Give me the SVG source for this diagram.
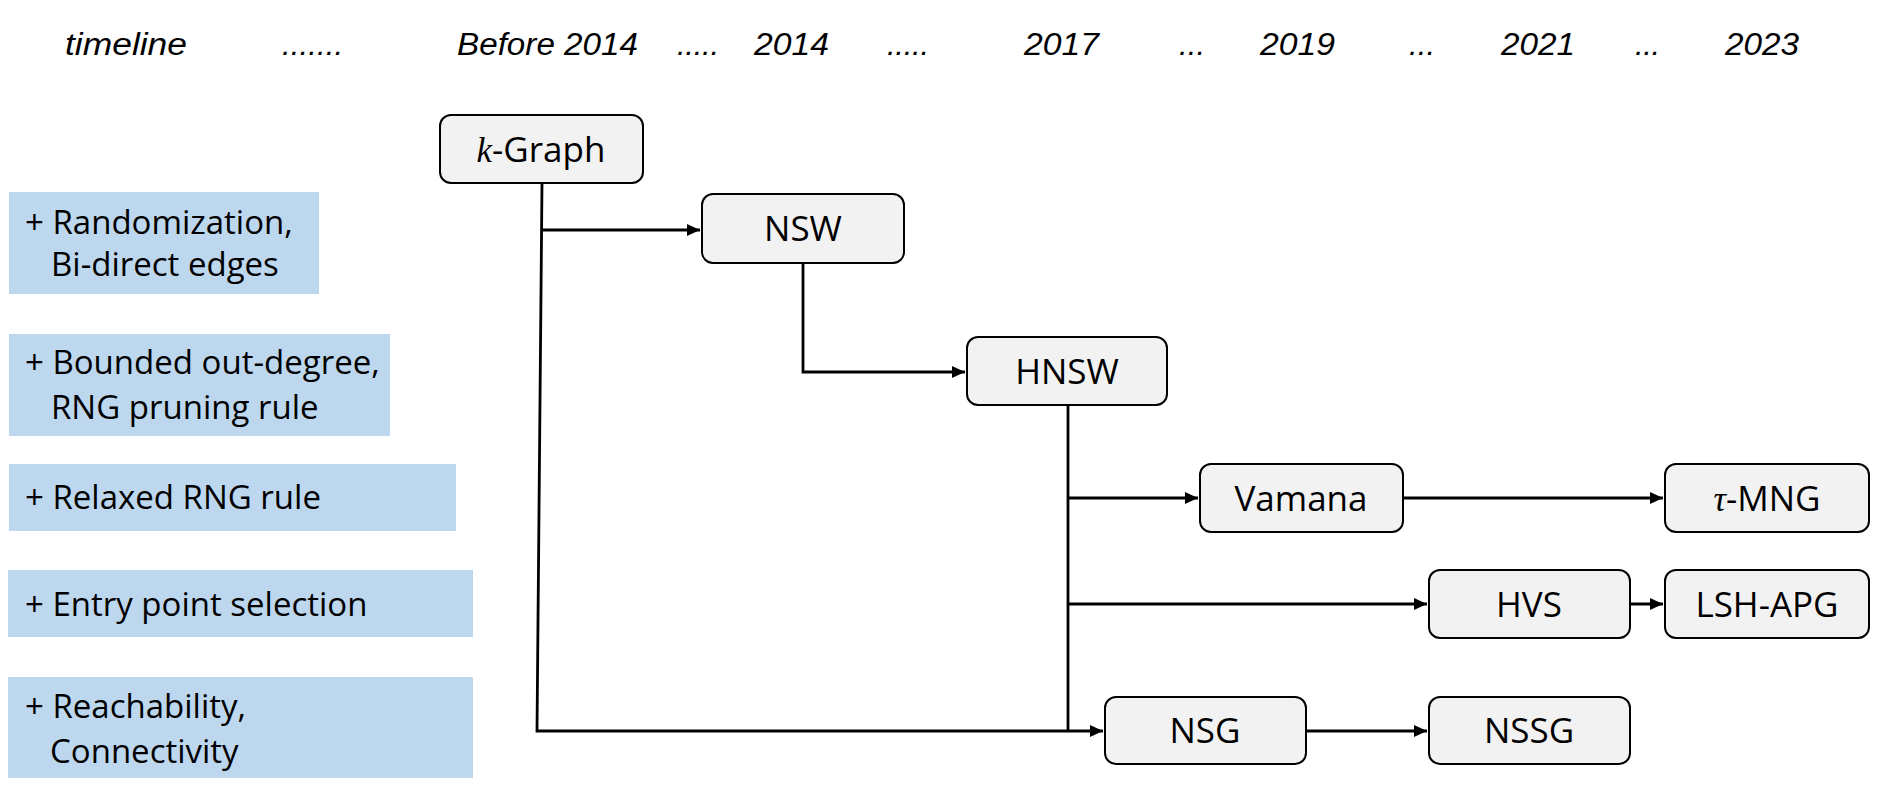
<svg xmlns="http://www.w3.org/2000/svg" width="1889" height="796" viewBox="0 0 1889 796">
<style>
.hdr{font-family:"Liberation Sans",Arial,sans-serif;font-style:italic;font-size:31px;fill:#000}
.lbl{font-family:"Open Sans","Noto Sans",sans-serif;font-size:33px;fill:#000}
.ntx{font-family:"Open Sans","Noto Sans",sans-serif;font-size:35px;fill:#000;text-anchor:middle}
.mth{font-family:"Liberation Serif","DejaVu Serif",serif;font-style:italic}
.box{fill:#bdd7ee}
.node{fill:#f2f2f2;stroke:#000;stroke-width:2}
.con{fill:none;stroke:#000;stroke-width:2.8}
</style>
<defs>
<marker id="ah" markerUnits="userSpaceOnUse" markerWidth="14" markerHeight="12" refX="13" refY="6" orient="auto">
<path d="M0,0 L13,6 L0,12 z" fill="#000"/>
</marker>
</defs>
<g id="timeline">
<text class="hdr" x="65" y="55" textLength="122" lengthAdjust="spacingAndGlyphs">timeline</text>
<text class="hdr" x="282" y="55" textLength="61" lengthAdjust="spacing">.......</text>
<text class="hdr" x="457" y="55" textLength="181" lengthAdjust="spacingAndGlyphs">Before 2014</text>
<text class="hdr" x="677" y="55" textLength="42" lengthAdjust="spacing">.....</text>
<text class="hdr" x="754" y="55" textLength="75" lengthAdjust="spacingAndGlyphs">2014</text>
<text class="hdr" x="887" y="55" textLength="42" lengthAdjust="spacing">.....</text>
<text class="hdr" x="1024" y="55" textLength="75" lengthAdjust="spacingAndGlyphs">2017</text>
<text class="hdr" x="1179" y="55" textLength="26" lengthAdjust="spacing">...</text>
<text class="hdr" x="1260" y="55" textLength="75" lengthAdjust="spacingAndGlyphs">2019</text>
<text class="hdr" x="1409" y="55" textLength="26" lengthAdjust="spacing">...</text>
<text class="hdr" x="1501" y="55" textLength="74" lengthAdjust="spacingAndGlyphs">2021</text>
<text class="hdr" x="1635" y="55" textLength="25" lengthAdjust="spacing">...</text>
<text class="hdr" x="1725" y="55" textLength="74" lengthAdjust="spacingAndGlyphs">2023</text>
</g>
<g id="feature-1">
<rect class="box" x="9" y="192" width="310" height="102"/>
<text class="lbl" x="25" y="234">+ Randomization,</text>
<text class="lbl" x="51" y="276">Bi-direct edges</text>
</g>
<g id="feature-2">
<rect class="box" x="9" y="334" width="381" height="102"/>
<text class="lbl" x="25" y="374">+ Bounded out-degree,</text>
<text class="lbl" x="51" y="419">RNG pruning rule</text>
</g>
<g id="feature-3">
<rect class="box" x="9" y="464" width="447" height="67"/>
<text class="lbl" x="25" y="509">+ Relaxed RNG rule</text>
</g>
<g id="feature-4">
<rect class="box" x="8" y="570" width="465" height="67"/>
<text class="lbl" x="25" y="616">+ Entry point selection</text>
</g>
<g id="feature-5">
<rect class="box" x="8" y="677" width="465" height="101"/>
<text class="lbl" x="25" y="718">+ Reachability,</text>
<text class="lbl" x="50" y="763">Connectivity</text>
</g>
<g id="connectors">
<path class="con" d="M542,183 L537,731 H1103" marker-end="url(#ah)"/>
<path class="con" d="M541,230 H700" marker-end="url(#ah)"/>
<path class="con" d="M803,263 V372 H965" marker-end="url(#ah)"/>
<path class="con" d="M1068,405 V731"/>
<path class="con" d="M1068,498 H1198" marker-end="url(#ah)"/>
<path class="con" d="M1068,604 H1427" marker-end="url(#ah)"/>
<path class="con" d="M1403,498 H1663" marker-end="url(#ah)"/>
<path class="con" d="M1630,604 H1663" marker-end="url(#ah)"/>
<path class="con" d="M1306,731 H1427" marker-end="url(#ah)"/>
</g>
<g id="node-kgraph">
<rect class="node" x="440" y="115" width="203" height="68" rx="11"/>
<text class="ntx" x="541" y="162"><tspan class="mth">k</tspan>-Graph</text>
</g>
<g id="node-nsw">
<rect class="node" x="702" y="194" width="202" height="69" rx="11"/>
<text class="ntx" x="803" y="241">NSW</text>
</g>
<g id="node-hnsw">
<rect class="node" x="967" y="337" width="200" height="68" rx="11"/>
<text class="ntx" x="1067" y="384">HNSW</text>
</g>
<g id="node-vamana">
<rect class="node" x="1200" y="464" width="203" height="68" rx="11"/>
<text class="ntx" x="1301" y="511">Vamana</text>
</g>
<g id="node-taumng">
<rect class="node" x="1665" y="464" width="204" height="68" rx="11"/>
<text class="ntx" x="1767" y="511"><tspan class="mth">τ</tspan>-MNG</text>
</g>
<g id="node-hvs">
<rect class="node" x="1429" y="570" width="201" height="68" rx="11"/>
<text class="ntx" x="1529" y="617">HVS</text>
</g>
<g id="node-lshapg">
<rect class="node" x="1665" y="570" width="204" height="68" rx="11"/>
<text class="ntx" x="1767" y="617">LSH-APG</text>
</g>
<g id="node-nsg">
<rect class="node" x="1105" y="697" width="201" height="67" rx="11"/>
<text class="ntx" x="1205" y="743">NSG</text>
</g>
<g id="node-nssg">
<rect class="node" x="1429" y="697" width="201" height="67" rx="11"/>
<text class="ntx" x="1529" y="743">NSSG</text>
</g>
</svg>
